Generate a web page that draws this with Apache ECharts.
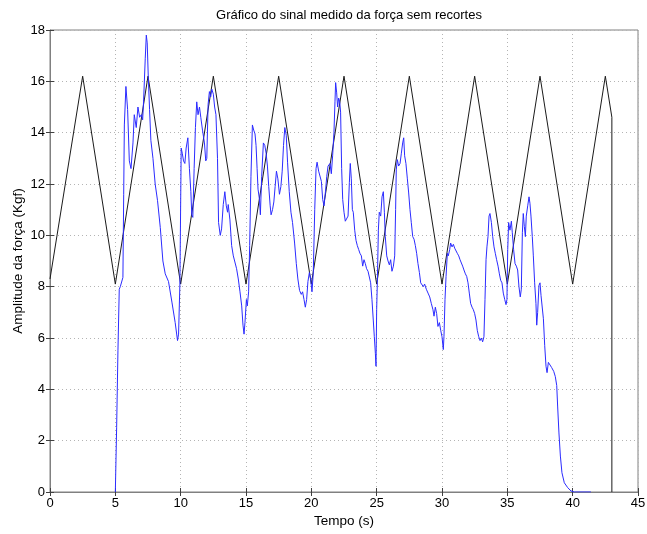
<!DOCTYPE html>
<html>
<head>
<meta charset="utf-8">
<script src="https://cdn.jsdelivr.net/npm/echarts@6/dist/echarts.min.js"></script>
<style>
  html, body { margin: 0; padding: 0; background: #fff; }
  #chart { width: 647px; height: 534px; }
</style>
</head>
<body>
<div id="chart"></div>
<script>
// measured force signal (blue)
var timeSignal = [
  5.0, 5.1, 5.2, 5.3, 5.38, 5.58, 5.64, 5.69, 5.81, 5.94, 6.07, 6.2, 6.35, 6.45, 6.6, 6.73, 6.86, 6.99, 7.09, 7.16,
  7.29, 7.37, 7.44, 7.52, 7.62, 7.72, 7.88, 8.05, 8.23, 8.44, 8.64, 8.82, 9.07, 9.33, 9.58, 9.76, 9.84, 9.94,
  10.04, 10.12, 10.22, 10.32, 10.42, 10.55, 10.67, 10.78, 10.85, 10.93, 11.03, 11.13, 11.23, 11.33, 11.44, 11.54,
  11.67, 11.82, 11.92, 12.0, 12.1, 12.2, 12.3, 12.38, 12.5, 12.6,
  12.7, 12.82, 12.9, 13.03, 13.13, 13.26, 13.38, 13.49, 13.59, 13.64, 13.77, 13.9, 14.03, 14.15, 14.28, 14.41,
  14.54, 14.67, 14.77, 14.85, 14.92, 15.03, 15.1, 15.2, 15.28, 15.38, 15.49, 15.59, 15.69, 15.77, 15.85, 15.92,
  16.03, 16.1, 16.2, 16.33, 16.44, 16.54, 16.64, 16.74, 16.85, 16.92, 17.03, 17.13, 17.23, 17.33, 17.44, 17.56,
  17.67, 17.77, 17.87, 17.97, 18.08, 18.18, 18.31, 18.44, 18.56, 18.72, 18.85, 18.97, 19.1, 19.23, 19.33, 19.44,
  19.54, 19.64, 19.74, 19.85, 19.95, 20.05, 20.15, 20.26, 20.36, 20.44, 20.56, 20.67, 20.77, 20.87, 20.97, 21.08,
  21.18, 21.28,
  21.43, 21.53, 21.63, 21.73, 21.81, 21.86, 21.94, 22.01, 22.09, 22.17, 22.24, 22.32, 22.4, 22.5, 22.6, 22.7,
  22.81, 22.91, 22.98, 23.06, 23.14, 23.21, 23.32, 23.42, 23.52, 23.62, 23.72, 23.83, 23.93, 24.03, 24.13, 24.23,
  24.34, 24.44, 24.54, 24.64, 24.74, 24.82, 24.9, 24.95, 25.0, 25.05, 25.13, 25.2, 25.31, 25.41, 25.51, 25.59,
  25.66, 25.77, 25.87, 25.97, 26.07, 26.17, 26.28, 26.38, 26.45, 26.5, 26.58, 26.68, 26.79, 26.89, 26.99, 27.07,
  27.14, 27.24, 27.35, 27.45, 27.55, 27.65, 27.76, 27.86, 27.96, 28.06, 28.16, 28.27, 28.37, 28.47, 28.57,
  28.67, 28.8, 28.93, 29.06, 29.18, 29.31, 29.39, 29.49, 29.59, 29.69, 29.8, 29.9, 30.0, 30.1, 30.15, 30.23,
  30.31, 30.41, 30.48, 30.59, 30.66, 30.77, 30.87, 30.97, 31.07, 31.17, 31.28, 31.38, 31.48, 31.58, 31.68, 31.79,
  31.89, 31.99, 32.09, 32.19, 32.3, 32.4, 32.5, 32.6, 32.7, 32.81, 32.91, 33.01, 33.11, 33.21, 33.29, 33.37,
  33.44, 33.52, 33.6, 33.67, 33.78, 33.88, 33.98, 34.08, 34.18, 34.29, 34.39, 34.49, 34.59, 34.69, 34.8, 34.9,
  34.97, 35.03, 35.1, 35.2, 35.31, 35.38, 35.48, 35.59, 35.69, 35.79, 35.89, 35.99, 36.07, 36.15, 36.22, 36.3,
  36.38, 36.45, 36.56, 36.66, 36.73, 36.81, 36.91, 36.99, 37.09, 37.19,
  37.25, 37.32, 37.42, 37.5, 37.58, 37.65, 37.76, 37.86, 37.96, 38.04, 38.14, 38.27, 38.39, 38.55, 38.67, 38.78,
  38.85, 38.95, 39.06, 39.18, 39.36, 39.62, 39.87, 40.13, 41.4
]
var forceSignal = [
  0, 2.5, 5.5, 7.9, 8.0, 8.36, 11.6, 14.3, 15.8, 14.9, 12.9, 12.6, 13.6, 14.7, 14.2, 15.0, 14.6, 14.7, 14.5, 15.2,
  16.9, 17.8, 17.5, 16.2, 14.9, 13.7, 13.0, 12.0, 11.35, 10.3, 9.0, 8.5, 8.2, 7.4, 6.6, 5.9, 6.15, 8.1,
  13.4, 13.2, 12.9, 12.8, 13.4, 13.8, 12.6, 11.7, 10.8, 10.7, 12.6, 14.2, 15.2, 14.7, 15.0, 14.6,
  14.1, 13.6, 12.9, 13.0, 15.1, 15.6, 15.4, 15.7, 15.5, 15.0,
  14.7, 13.0, 10.5, 10.0, 10.25, 11.2, 11.7, 11.15, 10.9, 11.2, 10.6, 9.6, 9.2, 9.2, 8.7, 8.3,
  7.8, 7.25, 6.5, 6.15, 6.6, 7.5, 7.25, 7.8, 9.6, 12.3, 14.3, 14.1, 13.95, 13.5, 12.6, 11.8,
  11.4, 10.8, 12.3, 13.6, 13.5, 13.2, 12.7, 11.9, 11.15, 10.8, 11.0, 11.3, 11.9, 12.5, 12.2, 11.6,
  11.9, 12.5, 13.5, 14.2, 13.9, 12.85, 11.7, 10.9, 10.5, 9.7, 8.9, 8.3, 7.85, 7.7, 7.8, 7.5,
  7.2, 7.5, 8.2, 8.55, 8.3, 7.8, 8.55, 11.0, 12.6, 12.85, 12.5, 12.5, 12.1, 11.4, 11.15, 11.7,
  12.3, 12.7,
  12.8, 12.4, 13.1, 14.0, 15.2, 15.95, 15.55, 15.0, 15.35, 15.2, 14.8, 12.6, 11.4, 10.9, 10.55, 10.5,
  10.75, 12.05, 12.8, 12.2, 11.0, 10.9, 10.2, 9.8, 9.6, 9.45, 9.3, 9.2, 8.8, 9.05, 8.9, 8.7,
  8.6, 8.55, 8.15, 7.5, 6.7, 6.05, 5.4, 4.9, 7.1, 8.15, 10.2, 10.9, 10.75, 11.5, 11.7, 10.9,
  9.95, 9.2, 9.0, 8.85, 9.05, 8.6, 8.8, 9.2, 11.0, 12.55, 12.95, 12.7, 12.8, 13.2, 13.6, 13.8,
  13.1, 12.8, 12.2, 11.65, 11.0, 10.5, 9.95, 9.85, 9.6, 9.3, 8.9, 8.55, 8.15, 8.1, 8.0,
  8.1, 7.9, 7.75, 7.6, 7.35, 7.1, 6.85, 7.2, 6.95, 6.45, 6.6, 6.3, 6.05, 5.55, 6.05, 7.5,
  8.4, 9.3, 9.2, 9.45, 9.7, 9.55, 9.65, 9.5, 9.45, 9.3, 9.2, 9.05, 9.05, 8.8, 8.65, 8.5,
  8.4, 8.15, 7.75, 7.35, 7.2, 7.1, 6.95, 6.7, 6.3, 6.05, 5.9, 6.0, 5.85, 6.05, 7.5, 9.05,
  9.55, 9.95, 10.75, 10.85, 10.5, 9.95, 9.55, 9.3, 9.05, 8.8, 8.5, 8.25, 8.15, 7.75, 7.5, 7.3,
  7.5, 9.45, 10.5, 10.2, 10.55, 10.1, 9.45, 8.9, 8.8, 8.65, 8.0, 7.6, 7.9, 10.1, 10.85, 10.35,
  9.95, 10.75, 11.15, 11.5, 11.25, 10.75, 9.95, 9.2, 8.15, 7.35,
  6.5, 7.0, 8.05, 8.15, 7.65, 7.7, 6.75, 5.7, 4.9, 4.65, 5.05, 5.0, 4.85, 4.7, 4.5, 4.15,
  3.35, 2.3, 1.4, 0.75, 0.36, 0.17, 0.04, 0, 0
]

// reference triangle wave (black)
var timeRef = [0, 2.5, 5, 7.5, 10, 12.5, 15, 17.5, 20, 22.5, 25, 27.5, 30, 32.5, 35, 37.5, 40, 42.5, 43, 43]
var forceRef = [8.3, 16.2, 8.1, 16.2, 8.1, 16.2, 8.1, 16.2, 8.1, 16.2, 8.1, 16.2, 8.1, 16.2, 8.1, 16.2, 8.1, 16.2, 14.6, 0]

var xTicks = [0, 5, 10, 15, 20, 25, 30, 35, 40, 45]
var yTicks = [0, 2, 4, 6, 8, 10, 12, 14, 16, 18]

function pairs(xs, ys) {
  return xs.map(function (x, i) { return [x, ys[i]] })
}

var font = 'Liberation Sans, Arial, Helvetica, sans-serif'
var chart = echarts.init(document.getElementById('chart'), null, { renderer: 'canvas' })

var splitDotted = {
  show: true,
  lineStyle: { color: '#b4b4b4', type: [1, 3], width: 1 }
}

chart.setOption({
  backgroundColor: '#fff',
  animation: false,
  title: {
    text: 'Gráfico do sinal medido da força sem recortes',
    left: 344,
    top: 4,
    textAlign: 'center',
    textStyle: { fontFamily: font, fontSize: 13, fontWeight: 'normal', color: '#000' }
  },
  grid: {
    left: 50,
    right: 9,
    top: 30,
    bottom: 42,
    outerBoundsMode: 'none',
    containLabel: false,
    show: true,
    borderColor: '#808080',
    borderWidth: 1,
    backgroundColor: '#fff'
  },
  xAxis: [{
    type: 'value',
    min: xTicks[0],
    max: xTicks[xTicks.length - 1],
    interval: 5,
    name: 'Tempo (s)',
    nameLocation: 'middle',
    nameGap: 22,
    nameMoveOverlap: false,
    nameTextStyle: { fontFamily: font, fontSize: 13.5, color: '#000' },
    axisLine: { show: true, lineStyle: { color: '#808080' } },
    axisTick: { show: true, inside: true, length: 4, lineStyle: { color: '#404040' } },
    axisLabel: { fontFamily: font, fontSize: 13, color: '#000', margin: 5 },
    splitLine: splitDotted
  }, {
    type: 'value',
    position: 'top',
    min: xTicks[0],
    max: xTicks[xTicks.length - 1],
    interval: 5,
    axisLine: { show: false },
    axisTick: { show: true, inside: true, length: 4, lineStyle: { color: '#404040' } },
    axisLabel: { show: false },
    splitLine: { show: false }
  }],
  yAxis: [{
    type: 'value',
    min: yTicks[0],
    max: yTicks[yTicks.length - 1],
    interval: 2,
    name: 'Amplitude da força (Kgf)',
    nameLocation: 'middle',
    nameGap: 25,
    nameMoveOverlap: false,
    nameTextStyle: { fontFamily: font, fontSize: 13.5, color: '#000' },
    axisLine: { show: true, lineStyle: { color: '#808080' } },
    axisTick: { show: true, inside: true, length: 4, lineStyle: { color: '#404040' } },
    axisLabel: { fontFamily: font, fontSize: 13, color: '#000', margin: 5 },
    splitLine: splitDotted
  }, {
    type: 'value',
    position: 'right',
    min: yTicks[0],
    max: yTicks[yTicks.length - 1],
    interval: 2,
    axisLine: { show: false },
    axisTick: { show: true, inside: true, length: 4, lineStyle: { color: '#404040' } },
    axisLabel: { show: false },
    splitLine: { show: false }
  }],
  series: [{
    name: 'referencia',
    type: 'line',
    data: pairs(timeRef, forceRef),
    showSymbol: false,
    lineStyle: { color: '#1a1a1a', width: 1 },
    z: 2
  }, {
    name: 'sinal',
    type: 'line',
    data: pairs(timeSignal, forceSignal),
    showSymbol: false,
    lineStyle: { color: '#2b2bff', width: 1 },
    z: 3
  }]
})
</script>
</body>
</html>
